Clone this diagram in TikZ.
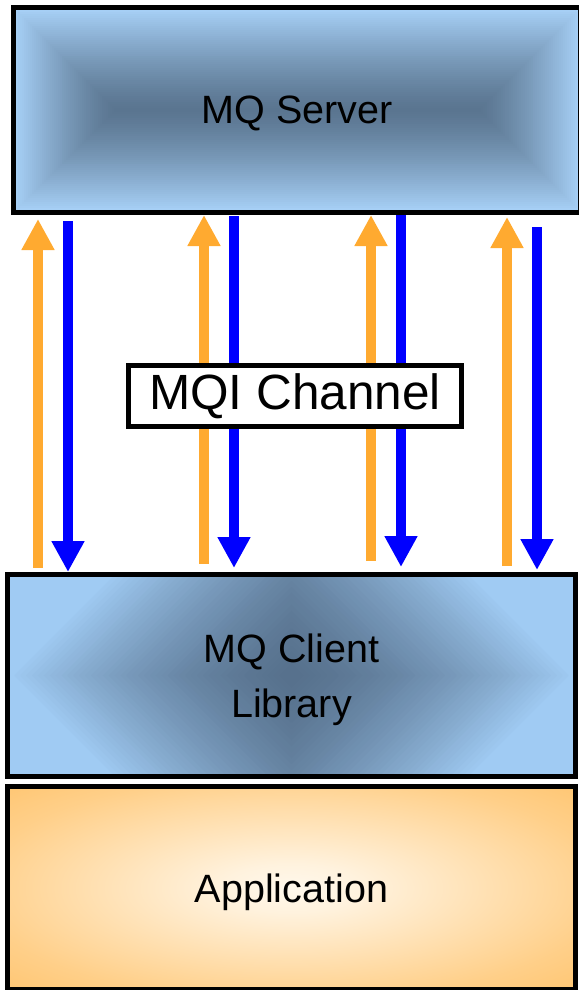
\documentclass[tikz,border=0pt]{standalone}
\usepackage{fontspec}
\setmainfont{Liberation Sans}
\usetikzlibrary{arrows.meta}

\definecolor{srvlight}{HTML}{A6CFF5}
\definecolor{srvdark}{HTML}{5A7590}
\definecolor{clilight}{HTML}{A0CBF3}
\definecolor{clidark}{HTML}{57718D}
\definecolor{appinner}{HTML}{FFF8EC}
\definecolor{appouter}{HTML}{FFAE38}
\definecolor{flowup}{HTML}{FFAA30}
\definecolor{flowdown}{HTML}{0000FF}

\pgfdeclareradialshading{appglow}{\pgfpoint{0bp}{0bp}}{color(0bp)=(appinner); color(6bp)=(appinner!92!appouter); color(28bp)=(appinner!45!appouter); color(50bp)=(appouter!90!appinner); color(71bp)=(appouter)}

\tikzset{
	layer/.style = {draw, line width = 5pt, minimum width = 568pt, font = \fontsize{39.5}{55}\selectfont},
	upflow/.style = {draw = flowup, line width = 10.5pt, -{Triangle[length = 31pt, width = 31pt]}},
	downflow/.style = {draw = flowdown, line width = 10pt, -{Triangle[length = 31pt, width = 31pt]}}
}

\begin{document}
\begin{tikzpicture}[x = 1pt, y = -1pt]

	\useasboundingbox (0, 0) rectangle (578, 990);

	% Server gradient

	\foreach \i in {0, 2, ..., 100} {
		\pgfmathtruncatemacro\pct{100 * (1 - \i / 100)^1.3}
		\fill [srvlight!\pct!srvdark] (16 + \i, 10 + \i) rectangle (579 - \i, 210 - \i);
	}

	% Client gradient

	\begin{scope}
		\clip (9, 577) rectangle (574, 774);
		\fill [clilight] (9, 577) rectangle (574, 774);
		\foreach \i in {0, ..., 47} {
			\pgfmathsetmacro\rad{283 * (1 - \i / 48)}
			\pgfmathtruncatemacro\pct{100 * (1 - \i / 48)^1.5}
			\fill [clilight!\pct!clidark] (291.5 - \rad, 675.5) -- (291.5, 675.5 - \rad) -- (291.5 + \rad, 675.5) -- (291.5, 675.5 + \rad) -- cycle;
		}
	\end{scope}

	% Boxes

	\node [layer, minimum width = 567pt, minimum height = 205pt, text depth = 0pt] (server) at (297, 110) {MQ Server};
	\node [layer, minimum height = 202pt, align = center] (client) at (291.5, 675.5) {\rule{0pt}{38pt}MQ Client\\Library};
	\node [layer, minimum height = 203pt, shade, shading = appglow, text depth = 0pt] (app) at (291.5, 888) {Application};

	% Arrows

	\draw [upflow, shorten <= 4pt, shorten >= 4pt] (client.north -| 38, 0) -- (server.south -| 38, 0);
	\draw [downflow, shorten <= 6pt] (server.south -| 68, 0) -- (client.north -| 68, 0);

	\draw [upflow, shorten <= 8pt] (client.north -| 204, 0) -- (server.south -| 204, 0);
	\draw [downflow, shorten <= 1pt, shorten >= 4pt] (server.south -| 234, 0) -- (client.north -| 234, 0);

	\draw [upflow, shorten <= 11pt] (client.north -| 371, 0) -- (server.south -| 371, 0);
	\draw [downflow, shorten >= 5pt] (server.south -| 401, 0) -- (client.north -| 401, 0);

	\draw [upflow, shorten <= 6pt, shorten >= 2pt] (client.north -| 507, 0) -- (server.south -| 507, 0);
	\draw [downflow, shorten <= 12pt, shorten >= 2pt] (server.south -| 537, 0) -- (client.north -| 537, 0);

	% Label

	\node [draw, fill = white, line width = 4.5pt, minimum width = 333pt, minimum height = 61pt, font = \fontsize{49.5}{56}\selectfont] (channel) at (295, 396) {MQI Channel};

\end{tikzpicture}
\end{document}
